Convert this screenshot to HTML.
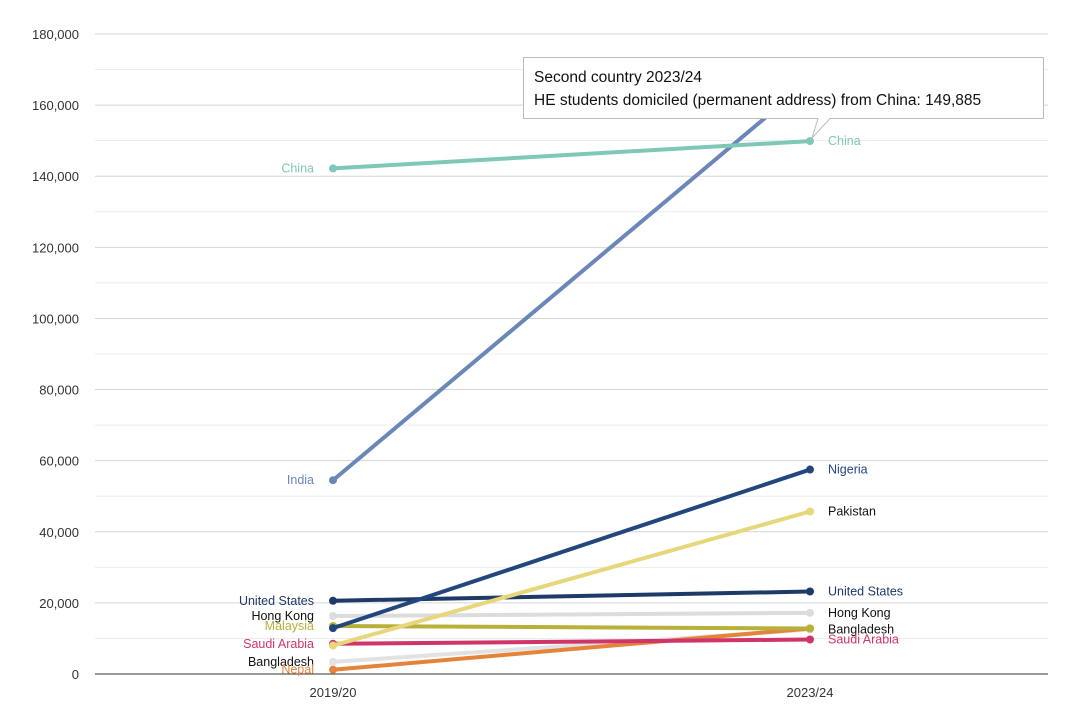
<!DOCTYPE html>
<html><head><meta charset="utf-8"><style>
body{margin:0;background:#fff;font-family:"Liberation Sans",sans-serif}
svg text{font-family:"Liberation Sans",sans-serif}
</style></head><body>
<svg id="chart" width="1080" height="715" xmlns="http://www.w3.org/2000/svg"></svg>
<script>
const categories=["2019/20","2023/24"];
const names=["Bangladesh","Nepal","Saudi Arabia","Malaysia","Hong Kong","United States","Pakistan","Nigeria","India","China"];
const start=[3400,1200,8500,13500,16300,20600,8000,12900,54500,142200];
const end=[12500,12800,9700,12800,17200,23200,45700,57500,167000,149885];
const colors=["#e2e2e2","#e5833a","#d0356a","#b8b03a","#dcdcdc","#1e3a68","#e8d67a","#22477f","#6b87b8","#7fc8b8"];
const labelColors=["#111","#e5833a","#d0356a","#b8b03a","#111","#1e3a68","#111","#22477f","#6b87b8","#7fc8b8"];
const showLeft=[true,true,true,true,true,true,false,false,true,true];
const showRight=[true,false,true,false,true,true,true,true,false,true];
const yTicks=[0,20000,40000,60000,80000,100000,120000,140000,160000,180000];
const NS="http://www.w3.org/2000/svg";
const svg=document.getElementById('chart');
const x0=95,x1=1048,yTop=34,yBot=674,yMax=180000;
const y=v=>yBot-(v/yMax)*(yBot-yTop);
const xs=i=>[333,810][i];
function el(t,a,p){const e=document.createElementNS(NS,t);for(const k in a)e.setAttribute(k,a[k]);(p||svg).appendChild(e);return e;}
for(let v=0;v<=yMax;v+=10000){
 const g=el('line',{x1:x0,x2:x1,y1:y(v),y2:y(v),stroke:v%20000?'#ececec':'#d6d6d6','stroke-width':1});
 
 
}
yTicks.forEach(v=>{
 const t=el('text',{x:79,y:y(v)+5,'text-anchor':'end','font-size':13,fill:'#333'});
 t.textContent=v.toLocaleString('en-US');
 
 
});
const ax=el('line',{x1:x0,x2:x1,y1:yBot,y2:yBot,stroke:'#333','stroke-width':1});


categories.forEach((c,i)=>{
 const t=el('text',{x:xs(i),y:697,'text-anchor':'middle','font-size':13,fill:'#333'});
 t.textContent=c;
 
 
});
names.forEach((n,i)=>{
 const g=el('g',{});
 
 
 const l=el('line',{x1:xs(0),y1:y(start[i]),x2:xs(1),y2:y(end[i]),stroke:colors[i],'stroke-width':4,'stroke-linecap':'round'},g);
 
 
 [start[i],end[i]].forEach((v,j)=>{
  const c=el('circle',{cx:xs(j),cy:y(v),r:4,fill:colors[i]},g);
  
  
 });
 if(showLeft[i]){
  const t=el('text',{x:314,y:y(start[i])+4,'text-anchor':'end','font-size':12.5,fill:labelColors[i]},g);
  t.textContent=n;
  
  
 }
 if(showRight[i]){
  const t=el('text',{x:828,y:y(end[i])+4,'font-size':12.5,fill:labelColors[i]},g);
  t.textContent=n;
  
  
 }
});
const tip=el('g',{});


el('path',{d:'M523.5,57.5 H1043.5 V118.5 H830 L812,138 L818,118.5 H523.5 Z',fill:'#fff',stroke:'#bbb','stroke-width':1},tip);
const t1=el('text',{x:534,y:82,'font-size':15.5,fill:'#111'},tip);t1.textContent='Second country 2023/24';
const t2=el('text',{x:534,y:105,'font-size':15.5,fill:'#111'},tip);t2.textContent='HE students domiciled (permanent address) from China: 149,885';
</script>
</body></html>
